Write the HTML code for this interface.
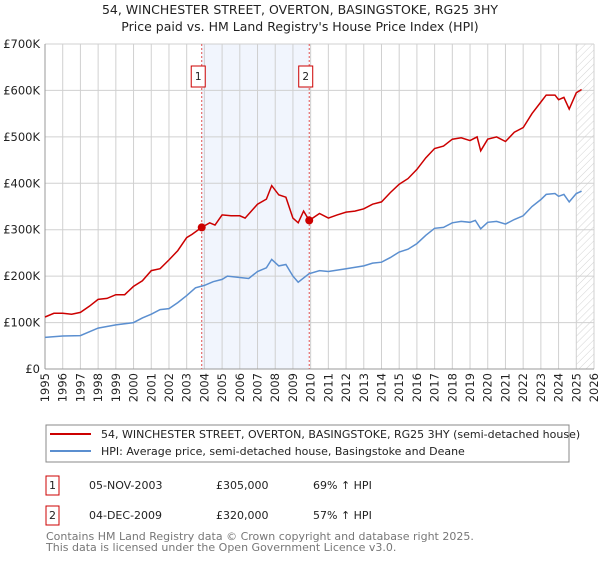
<!DOCTYPE html>
<html><head><meta charset="utf-8"><style>
body{margin:0;background:#fff;font-family:"Liberation Sans","DejaVu Sans",sans-serif;}
svg text{font-family:"DejaVu Sans","Liberation Sans",sans-serif;}
</style></head><body>
<svg id="c" width="600" height="560" viewBox="0 0 600 560" xmlns="http://www.w3.org/2000/svg">
<defs><pattern id="hatch" width="5" height="5" patternUnits="userSpaceOnUse" patternTransform="rotate(45)"><line x1="0" y1="0" x2="0" y2="5" stroke="#c8c8c8" stroke-width="0.8"/></pattern></defs>
<text x="300" y="14" text-anchor="middle" font-size="12.5" fill="#222">54, WINCHESTER STREET, OVERTON, BASINGSTOKE, RG25 3HY</text>
<text x="300" y="31" text-anchor="middle" font-size="12.5" fill="#222">Price paid vs. HM Land Registry's House Price Index (HPI)</text>
<g id="plot"></g>
<g>
<rect x="46" y="425" width="523" height="37" fill="#fff" stroke="#888"/>
<line x1="50" y1="434" x2="91" y2="434" stroke="#cc0000" stroke-width="2"/>
<text x="101" y="438" font-size="11" fill="#222">54, WINCHESTER STREET, OVERTON, BASINGSTOKE, RG25 3HY (semi-detached house)</text>
<line x1="50" y1="451" x2="91" y2="451" stroke="#5b8fd0" stroke-width="2"/>
<text x="101" y="455" font-size="11" fill="#222">HPI: Average price, semi-detached house, Basingstoke and Deane</text>
</g>
<g font-size="11" fill="#222">
<rect x="46" y="476" width="13" height="19" fill="#fff" stroke="#cc0000"/>
<text x="52.5" y="489" text-anchor="middle">1</text>
<text x="89" y="489">05-NOV-2003</text><text x="216" y="489">£305,000</text><text x="313" y="489">69% ↑ HPI</text>
<rect x="46" y="506" width="13" height="19" fill="#fff" stroke="#cc0000"/>
<text x="52.5" y="519" text-anchor="middle">2</text>
<text x="89" y="519">04-DEC-2009</text><text x="216" y="519">£320,000</text><text x="313" y="519">57% ↑ HPI</text>
</g>
<text x="46" y="540" font-size="11" fill="#777">Contains HM Land Registry data © Crown copyright and database right 2025.</text>
<text x="46" y="551" font-size="11" fill="#777">This data is licensed under the Open Government Licence v3.0.</text>
</svg>
<script>
const hpiYears=[1995,1996,1997,1998,1999,2000,2000.5,2001,2001.5,2002,2002.5,2003,2003.5,2004,2004.5,2005,2005.3,2006,2006.5,2007,2007.5,2007.8,2008.2,2008.6,2009,2009.3,2009.9,2010.5,2011,2011.5,2012,2013,2013.5,2014,2014.5,2015,2015.5,2016,2016.5,2017,2017.5,2018,2018.5,2019,2019.3,2019.6,2020,2020.5,2021,2021.5,2022,2022.5,2023,2023.3,2023.8,2024,2024.3,2024.6,2025,2025.3];
const hpiValues=[68,71,72,88,95,100,110,118,128,130,143,158,175,180,188,193,200,197,195,210,218,236,222,225,200,187,205,212,210,213,216,222,228,230,240,252,258,270,288,303,305,315,318,316,320,302,316,318,312,322,330,350,365,376,378,372,376,360,378,383];
const priceYears=[1995,1995.5,1996,1996.5,1997,1997.5,1998,1998.5,1999,1999.5,2000,2000.5,2001,2001.5,2002,2002.5,2003,2003.3,2003.85,2004.3,2004.6,2005,2005.5,2006,2006.3,2007,2007.5,2007.8,2008.2,2008.6,2009,2009.3,2009.6,2009.92,2010.5,2011,2011.5,2012,2012.5,2013,2013.5,2014,2014.5,2015,2015.5,2016,2016.5,2017,2017.5,2018,2018.5,2019,2019.4,2019.6,2020,2020.5,2021,2021.5,2022,2022.5,2023,2023.3,2023.8,2024,2024.3,2024.6,2025,2025.3];
const priceValues=[112,120,120,118,122,135,150,152,160,160,178,190,212,216,235,255,283,290,305,315,310,332,330,330,325,355,366,395,375,370,325,315,340,320,335,325,332,338,340,345,355,360,380,398,410,430,455,475,480,495,498,492,500,470,495,500,490,510,520,550,575,590,590,580,585,560,595,602];
const saleYears=[2003.85,2009.92];
const saleValues=[305,320];
const saleLabels=["1","2"];
const yTicks=[0,100,200,300,400,500,600,700];
const yTickLabels=["£0","£100K","£200K","£300K","£400K","£500K","£600K","£700K"];
const xTicks=[1995,1996,1997,1998,1999,2000,2001,2002,2003,2004,2005,2006,2007,2008,2009,2010,2011,2012,2013,2014,2015,2016,2017,2018,2019,2020,2021,2022,2023,2024,2025,2026];

const L=45,R=594,T=44,B=369,X0=1995,X1=2026,YMAX=700;
const sx=v=>L+(v-X0)/(X1-X0)*(R-L);
const sy=v=>B-v/YMAX*(B-T);
const NS="http://www.w3.org/2000/svg";
const g=document.getElementById('plot');
function mk(tag,attrs,parent){const e=document.createElementNS(NS,tag);for(const k in attrs)e.setAttribute(k,attrs[k]);(parent||g).appendChild(e);return e;}

let e=mk('rect',{x:sx(saleYears[0]),y:T,width:sx(saleYears[1])-sx(saleYears[0]),height:B-T,fill:'#eef3fc',opacity:0.8});


e=mk('rect',{x:sx(2025),y:T,width:R-sx(2025),height:B-T,fill:'url(#hatch)'});


xTicks.forEach(t=>{
 const l=mk('line',{x1:sx(t),x2:sx(t),y1:T,y2:B,stroke:'#d0d0d0','stroke-width':1});
 
 
 const tx=mk('text',{x:0,y:0,'font-size':11.5,fill:'#222','text-anchor':'end',transform:`translate(${sx(t)+4},${B+4}) rotate(-90)`});
 tx.textContent=t;
 
 
});
yTicks.forEach((t,i)=>{
 const l=mk('line',{x1:L,x2:R,y1:sy(t),y2:sy(t),stroke:'#d0d0d0','stroke-width':1});
 
 
 const tx=mk('text',{x:40,y:sy(t)+4,'font-size':11.5,fill:'#222','text-anchor':'end'});
 tx.textContent=yTickLabels[i];
 
 
});
e=mk('line',{x1:L,x2:L,y1:T,y2:B,stroke:'#999'});


e=mk('line',{x1:L,x2:R,y1:B,y2:B,stroke:'#999'});


saleYears.forEach((yr,i)=>{
 const l=mk('line',{x1:sx(yr),x2:sx(yr),y1:T,y2:B,stroke:'#e05050','stroke-width':1,'stroke-dasharray':'2,2'});
 
 
 const r=mk('rect',{x:sx(yr)-10.5,y:66,width:14,height:21,fill:'#fff',stroke:'#cc0000'});
 
 
 const tx=mk('text',{x:sx(yr)-3.5,y:80,'font-size':10.5,fill:'#222','text-anchor':'middle'});
 tx.textContent=saleLabels[i];
 
 
});
const path=(xs,vs)=>xs.map((x,i)=>(i?'L':'M')+sx(x).toFixed(1)+','+sy(vs[i]).toFixed(1)).join('');
e=mk('path',{d:path(hpiYears,hpiValues),fill:'none',stroke:'#5b8fd0','stroke-width':1.5});


e=mk('path',{d:path(priceYears,priceValues),fill:'none',stroke:'#cc0000','stroke-width':1.5});


saleYears.forEach((yr,i)=>{
 const c=mk('circle',{cx:sx(yr),cy:sy(saleValues[i]),r:4,fill:'#cc0000'});
 
 
});
</script>
</body></html>
